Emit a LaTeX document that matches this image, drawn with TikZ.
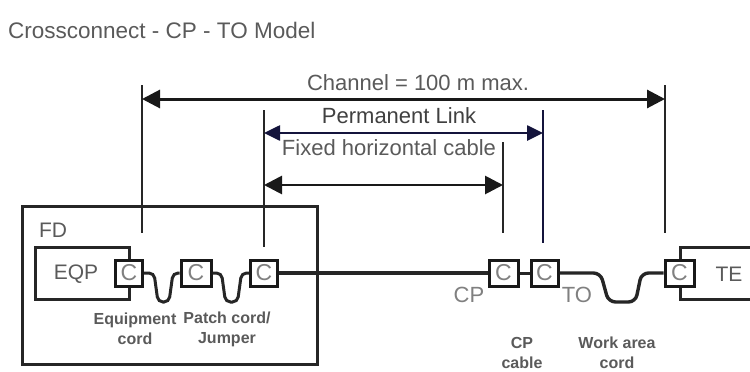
\documentclass[tikz,border=0pt]{standalone}
\usepackage{fontspec}
\setmainfont{Liberation Sans}
\usetikzlibrary{arrows.meta,calc}
\definecolor{txt}{HTML}{5A5A5A}
\definecolor{navy}{HTML}{14143C}
\tikzset{
  wire/.style={line width=3pt,draw=black!85,rounded corners=5pt},
  span/.style={line width=3pt,draw=black!90,{Triangle[length=18pt,width=18pt]}-{Triangle[length=18pt,width=18pt]}},
  link/.style={line width=2.6pt,draw=navy,{Triangle[length=16pt,width=15pt]}-{Triangle[length=16pt,width=15pt]}},
  tick/.style={line width=2.8pt,draw=black!85},
  conn/.style={draw=black!90,line width=3pt,fill=white,minimum width=27pt,minimum height=26pt,inner sep=0pt,font=\fontsize{23}{25}\selectfont,text=gray},
  lab/.style={inner sep=0pt,text=txt,font=\fontsize{22}{24}\selectfont},
  small/.style={inner sep=0pt,align=center,text=txt,font=\bfseries\fontsize{16}{20}\selectfont},
  box/.style={draw=black!85,line width=3pt,inner sep=0pt}
}
\begin{document}
\begin{tikzpicture}[x=1pt,y=-1pt]
\useasboundingbox (0,0) rectangle (750,372);
\fill[white] (0,0) rectangle (750,372);
% title
\node[lab,anchor=west,font=\fontsize{22.5}{24}\selectfont] (title) at (8,30) {Crossconnect - CP - TO Model};
% enclosures
\node[box,minimum width=295pt,minimum height=158pt] (fd) at (169.5,285) {};
\node[box,minimum width=94pt,minimum height=52pt] (eqp) at (82,273) {};
\draw[box] (750,247) -- (680,247) -- (680,299) -- (750,299);
% connectors
\node[conn] (c1) at (129,273) {C};
\node[conn,minimum width=30pt] (c2) at (196,273) {C};
\node[conn] (c3) at (264,273) {C};
\node[conn,minimum width=29pt] (c4) at (503.5,273) {C};
\node[conn] (c5) at (544.5,273) {C};
\node[conn,minimum width=29pt] (c6) at (679.5,273) {C};
% cables
\draw[wire] (c1.east) -- ++(10,0) -- ++(4,29) -- ++(11,0) -- ++(4,-29) -- (c2.west);
\draw[wire] (c2.east) -- ++(9,0) -- ++(4,29) -- ++(12,0) -- ++(4,-29) -- (c3.west);
\draw[wire,line width=3.5pt] (c3.east) -- (c4.west);
\draw[wire] (c4.east) -- (c5.west);
\draw[wire,line width=3.4pt,rounded corners=7pt] (c5.east) -- ++(41,0) -- ++(8,29) -- ++(27,0) -- ++(6,-29) -- (c6.west);
% dimension ends
\coordinate (chL) at (142,85);
\coordinate (chLb) at (142,233);
\coordinate (chR) at (665,85);
\coordinate (chRb) at (665,233);
\coordinate (plL) at (264,110);
\coordinate (plLb) at (264,247);
\coordinate (plR) at (543,110);
\coordinate (plRb) at (543,243);
\coordinate (fxR) at (503,142);
\coordinate (fxRb) at (503,233);
\draw[tick] (chL) -- (chLb);
\draw[tick] (chR) -- (chRb);
\draw[tick] (plL) -- (plLb);
\draw[tick,draw=navy] (plR) -- (plRb);
\draw[tick] (fxR) -- (fxRb);
\draw[span] (chL|-0,99) -- (chR|-0,99);
\draw[link] (plL|-0,133) -- (plR|-0,133);
\draw[span,line width=2.8pt] (plL|-0,185) -- (fxR|-0,185);
% texts
\node[lab] (channel) at (418,83) {Channel = 100 m max.};
\node[lab,text=black!75] (perm) at (399,116) {Permanent Link};
\node[lab] (fixed) at (389,148) {Fixed horizontal cable};
\node[lab,font=\fontsize{21}{24}\selectfont] (fdl) at (53,230) {FD};
\node[lab,font=\fontsize{21}{24}\selectfont] (eqpl) at (76,274) {EQP};
\node[lab,font=\fontsize{21}{24}\selectfont] (tel) at (729,274) {TE};
\node[lab,text=gray] (cpl) at (469,295) {CP};
\node[lab,text=gray] (tol) at (577,295) {TO};
\node[small] (equip) at (135,329) {Equipment\\cord};
\node[small] (patch) at (227,329) {Patch cord/\\Jumper};
\node[small] (cpc) at (522,353) {CP\\cable};
\node[small] (wac) at (617,353) {Work area\\cord};
\end{tikzpicture}
\end{document}
